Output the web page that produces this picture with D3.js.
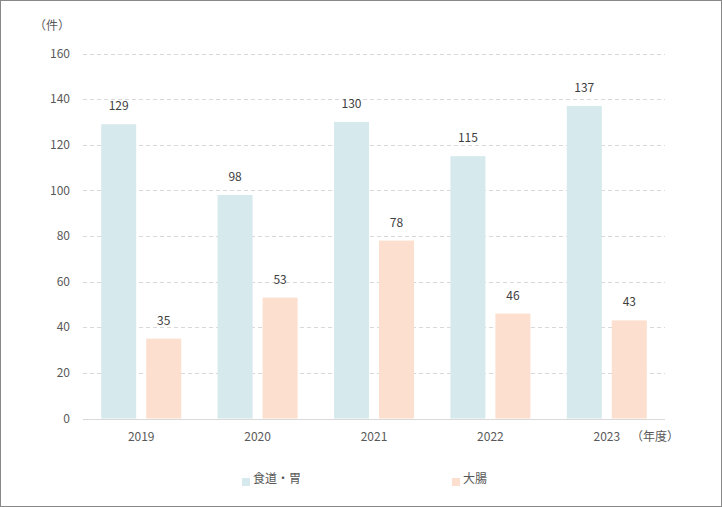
<!DOCTYPE html>
<html><head><meta charset="utf-8">
<script src="https://cdn.jsdelivr.net/npm/d3@7"></script>
<style>
html,body{margin:0;padding:0;background:#fff;}
svg{display:block;font-family:"Noto Sans CJK JP","Noto Sans",sans-serif;}
</style></head>
<body><svg id="c" width="722" height="507"></svg>
<script>
const years = ["2019","2020","2021","2022","2023"];
const seriesNames = ["食道・胃","大腸"];
const stomach = [129,98,130,115,137];
const colon = [35,53,78,46,43];
const yTicks = [0,20,40,60,80,100,120,140,160];
const colors = ["#d6e9ec","#fddfd0"];

const svg = d3.select("#c");
svg.append("rect").attr("x",0.5).attr("y",0.5).attr("width",721).attr("height",506)
  .attr("fill","#fff").attr("stroke","#888").attr("stroke-width",1);

const x0 = d3.scaleBand().domain(years).range([83,665]).paddingInner(0).paddingOuter(0);
const half = x0.bandwidth()/2;
const x1 = d3.scaleBand().domain(seriesNames).range([half-40,half+40]).paddingInner(10/45).paddingOuter(0);
const y = d3.scaleLinear().domain([0,160]).range([418.5,53.5]);

// grid
svg.append("g").selectAll("line").data(yTicks.filter(d=>d>0)).join("line")
  .attr("x1",83).attr("x2",665)
  .attr("y1",d=>Math.round(y(d))+0.5).attr("y2",d=>Math.round(y(d))+0.5)
  .attr("stroke","#d9d9d9").attr("stroke-dasharray","4,3");

// y tick labels
svg.append("g").selectAll("text").data(yTicks).join("text")
  .attr("x",70).attr("y",d=>y(d)).attr("dy","0.35em").attr("text-anchor","end")
  .attr("font-size",12).attr("fill","#595959").text(d=>d);

const data = years.map((yr,i)=>({year:yr, vals:[stomach[i],colon[i]]}));
const g = svg.append("g").selectAll("g").data(data).join("g")
  .attr("transform",d=>`translate(${x0(d.year)},0)`);
g.selectAll("rect").data(d=>d.vals.map((v,j)=>({s:seriesNames[j],v,j}))).join("rect")
  .attr("x",d=>x1(d.s)).attr("width",x1.bandwidth())
  .attr("y",d=>y(d.v)).attr("height",d=>y(0)-y(d.v)).attr("fill",d=>colors[d.j]);
g.selectAll("text").data(d=>d.vals.map((v,j)=>({s:seriesNames[j],v,j}))).join("text")
  .attr("x",d=>x1(d.s)+x1.bandwidth()/2).attr("y",d=>y(d.v)-14)
  .attr("text-anchor","middle").attr("font-size",12).attr("fill","#404040").text(d=>d.v);

// axis line
svg.append("line").attr("x1",83).attr("x2",665).attr("y1",419.5).attr("y2",419.5)
  .attr("stroke","#d9d9d9").attr("stroke-width",1);

// x labels
svg.append("g").selectAll("text").data(years).join("text")
  .attr("x",d=>x0(d)+x0.bandwidth()/2).attr("y",437).attr("dy","0.35em")
  .attr("text-anchor","middle").attr("font-size",12).attr("fill","#595959").text(d=>d);

svg.append("text").attr("x",52).attr("y",26).attr("dy","0.35em").attr("text-anchor","middle")
  .attr("font-size",12).attr("fill","#595959").text("（件）");
svg.append("text").attr("x",655).attr("y",437).attr("dy","0.35em").attr("text-anchor","middle")
  .attr("font-size",12).attr("fill","#595959").text("（年度）");

// legend
const legX = [242,452];
const lg = svg.append("g").selectAll("g").data(seriesNames).join("g")
  .attr("transform",(d,i)=>`translate(${legX[i]},0)`);
lg.append("rect").attr("x",0).attr("y",478).attr("width",8).attr("height",8)
  .attr("fill",(d,i)=>colors[i]);
lg.append("text").attr("x",11).attr("y",479).attr("dy","0.35em")
  .attr("font-size",12).attr("fill","#595959").text(d=>d);
</script></body></html>
